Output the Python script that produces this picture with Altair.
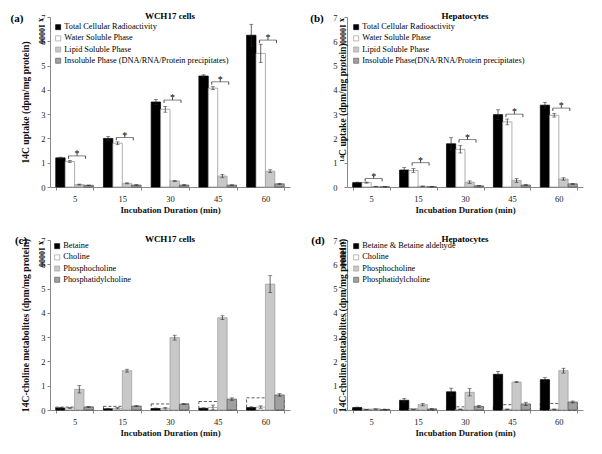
import altair as alt
import pandas as pd

cats = ["5", "15", "30", "45", "60"]

a_series = ["Total Cellular Radioactivity", "Water Soluble Phase", "Lipid Soluble Phase",
            "Insoluble Phase (DNA/RNA/Protein precipitates)"]
a_vals = [[1.2, 2.0, 3.5, 4.57, 6.25], [1.05, 1.8, 3.2, 4.07, 5.5],
          [0.1, 0.15, 0.25, 0.45, 0.65], [0.07, 0.08, 0.08, 0.08, 0.13]]
a_errs = [[0.03, 0.08, 0.1, 0.05, 0.45], [0.04, 0.06, 0.12, 0.06, 0.38],
          [0.02, 0.02, 0.02, 0.07, 0.06], [0.01, 0.02, 0.02, 0.01, 0.02]]
a_brk = [1.28, 2.04, 3.58, 4.33, 6.05]

b_series = ["Total Cellular Radioactivity", "Water Soluble Phase", "Lipid Soluble Phase",
            "Insoluble Phase(DNA/RNA/Protein precipitates)"]
b_vals = [[0.18, 0.7, 1.78, 2.98, 3.37], [0.18, 0.68, 1.55, 2.68, 2.95],
          [0.02, 0.03, 0.2, 0.27, 0.33], [0.01, 0.01, 0.05, 0.08, 0.13]]
b_errs = [[0.02, 0.1, 0.25, 0.2, 0.12], [0.02, 0.08, 0.15, 0.12, 0.07],
          [0.01, 0.01, 0.05, 0.08, 0.05], [0.005, 0.005, 0.01, 0.02, 0.02]]
b_brk = [0.35, 1.0, 1.95, 3.0, 3.25]

c_series = ["Betaine", "Choline", "Phosphocholine", "Phosphatidylcholine"]
c_vals = [[0.08, 0.05, 0.06, 0.07, 0.1], [0.08, 0.07, 0.07, 0.1, 0.12],
          [0.85, 1.62, 2.98, 3.8, 5.18], [0.12, 0.16, 0.24, 0.45, 0.62]]
c_errs = [[0.02, 0.02, 0.02, 0.02, 0.03], [0.03, 0.03, 0.03, 0.1, 0.05],
          [0.15, 0.06, 0.1, 0.08, 0.35], [0.02, 0.02, 0.02, 0.05, 0.05]]
c_dash = [0.12, 0.15, 0.25, 0.35, 0.5]

d_series = ["Betaine & Betaine aldehyde", "Choline", "Phosphocholine", "Phosphatidylcholine"]
d_vals = [[0.1, 0.4, 0.75, 1.47, 1.25], [0.02, 0.03, 0.03, 0.03, 0.03],
          [0.04, 0.22, 0.73, 1.15, 1.62], [0.02, 0.04, 0.15, 0.25, 0.33]]
d_errs = [[0.02, 0.08, 0.15, 0.12, 0.08], [0.01, 0.01, 0.01, 0.01, 0.01],
          [0.01, 0.05, 0.15, 0.02, 0.1], [0.01, 0.01, 0.04, 0.07, 0.04]]
d_dash = [0.03, 0.04, 0.13, 0.22, 0.27]

FILLS = ["#000000", "#ffffff", "#c8c8c8", "#a0a0a0"]
STROKES = ["#000000", "#8c8c8c", "#9a9a9a", "#555555"]
FONT = "Liberation Serif"
H = 170


def panel(tag, title, ytitle, series, vals, errs, brk=None, dash=None, lx=4, ly=4,
          w=240, title_x=-25, label_pad=2, tag_x=-33, tag_y=2, mult_x=-9):
    rows = []
    for s, vs, es in zip(series, vals, errs):
        for c, v, e in zip(cats, vs, es):
            rows.append(dict(cat=c, series=s, v=v, lo=max(v - e, 0), hi=v + e))
    df = pd.DataFrame(rows)

    xenc = alt.X("cat:N", sort=cats,
                 scale=alt.Scale(paddingInner=0.21, paddingOuter=0.12),
                 axis=alt.Axis(title="Incubation Duration (min)", labelAngle=0,
                               tickBand="extent", labelPadding=4, titlePadding=3,
                               titleFontSize=8.8))
    xoff = alt.XOffset("series:N", sort=series,
                       scale=alt.Scale(paddingInner=0, paddingOuter=0))
    yscale = alt.Scale(domain=[0, 7], nice=False)
    yaxis = alt.Axis(title=ytitle, values=list(range(8)), titleX=title_x,
                     titleBaseline="middle", labelPadding=label_pad, titleFontSize=9.6)

    layers = []
    if dash is not None:
        ddf = pd.DataFrame(dict(cat=cats, d=dash))
        layers.append(alt.Chart(ddf).mark_bar(fill="white", fillOpacity=0, stroke="#333333",
                                              strokeDash=[3, 2], strokeWidth=0.8).encode(
            x=xenc, y=alt.Y("d:Q", scale=yscale, axis=yaxis)))

    bars = alt.Chart(df).mark_bar(strokeWidth=0.7).encode(
        x=xenc, xOffset=xoff,
        y=alt.Y("v:Q", scale=yscale, axis=yaxis),
        fill=alt.Fill("series:N", sort=series,
                      scale=alt.Scale(domain=series, range=FILLS),
                      legend=alt.Legend(orient="none", legendX=lx, legendY=ly, title=None,
                                        symbolType="square", symbolSize=26,
                                        symbolStrokeColor="#555555", symbolStrokeWidth=0.6,
                                        labelFont=FONT, labelFontSize=8.3, labelLimit=400,
                                        labelColor="#000000",
                                        rowPadding=2.2, labelOffset=2)),
        stroke=alt.Stroke("series:N", sort=series,
                          scale=alt.Scale(domain=series, range=STROKES), legend=None))
    layers.append(bars)

    err = alt.Chart(df).mark_rule(color="#222222", strokeWidth=0.7).encode(
        x=xenc, xOffset=xoff, y=alt.Y("lo:Q", scale=yscale, axis=yaxis), y2="hi:Q")
    cap_hi = alt.Chart(df).mark_tick(color="#222222", thickness=0.7, size=4).encode(
        x=xenc, xOffset=xoff, y=alt.Y("hi:Q", scale=yscale, axis=yaxis))
    cap_lo = alt.Chart(df).mark_tick(color="#222222", thickness=0.7, size=4).encode(
        x=xenc, xOffset=xoff, y=alt.Y("lo:Q", scale=yscale, axis=yaxis))
    layers += [err, cap_hi, cap_lo]

    if brk is not None:
        bdf = pd.DataFrame(dict(cat=cats, b=brk))
        bdf["down"] = bdf["b"] - 0.12
        bdf["up"] = bdf["b"] + 0.1
        bdf["star"] = bdf["b"] + 0.2
        base = alt.Chart(bdf)
        layers.append(base.mark_tick(color="#222222", thickness=0.8, size=17, xOffset=2.5).encode(
            x=xenc, y=alt.Y("b:Q", scale=yscale, axis=yaxis)))
        for off in (-6, 11):
            layers.append(base.mark_rule(color="#222222", strokeWidth=0.8, xOffset=off).encode(
                x=xenc, y=alt.Y("down:Q", scale=yscale, axis=yaxis), y2="b:Q"))
        layers.append(base.mark_rule(color="#222222", strokeWidth=0.8, xOffset=2.5).encode(
            x=xenc, y=alt.Y("b:Q", scale=yscale, axis=yaxis), y2="up:Q"))
        layers.append(base.mark_text(text="*", font=FONT, fontSize=10, xOffset=2.5, dy=3,
                                     color="#000000").encode(
            x=xenc, y=alt.Y("star:Q", scale=yscale, axis=yaxis)))

    ann = alt.Chart(pd.DataFrame(dict(t=[title], g=[tag], m=["x 10000"])))
    layers.append(ann.mark_text(font=FONT, fontSize=9, fontWeight="bold", color="#000000").encode(
        text="t:N", x=alt.value(w / 2), y=alt.value(-1)))
    layers.append(ann.mark_text(font=FONT, fontSize=11, fontWeight="bold", color="#000000").encode(
        text="g:N", x=alt.value(tag_x), y=alt.value(tag_y)))
    layers.append(ann.mark_text(font=FONT, fontSize=8, fontWeight="bold", angle=90,
                                color="#000000").encode(
        text="m:N", x=alt.value(mult_x), y=alt.value(14)))

    return alt.layer(*layers).properties(width=w, height=H)


pa = panel("(a)", "WCH17 cells", "14C uptake (dpm/mg protein)", a_series, a_vals, a_errs,
           brk=a_brk, lx=4, ly=6)
pb = panel("(b)", "Hepatocytes", "¹⁴C uptake (dpm/mg protein)", b_series, b_vals, b_errs,
           brk=b_brk, lx=5, ly=6, w=236, title_x=-5, label_pad=7, tag_x=-30, mult_x=-5)
pc = panel("(c)", "WCH17 cells", "14C-choline metabolites (dpm/mg protein)", c_series, c_vals,
           c_errs, dash=c_dash, lx=3, ly=2, tag_x=-29, tag_y=1)
pd_ = panel("(d)", "Hepatocytes", "14C-choline metabolites (dpm/mg protein)", d_series, d_vals,
            d_errs, dash=d_dash, lx=5, ly=2, w=236, title_x=-5, label_pad=7, tag_x=-29,
            tag_y=1, mult_x=-5)

chart = alt.concat(
    pa, pb, pc, pd_, columns=2, spacing={"row": 20, "column": 20}
).resolve_scale(
    fill="independent", stroke="independent", xOffset="independent"
).resolve_legend(
    fill="independent", stroke="independent"
).configure(
    font=FONT, padding={"left": 2, "top": 4, "right": 2, "bottom": 2}
).configure_view(stroke=None).configure_legend(
    labelFont=FONT, labelColor="#000000"
).configure_axis(
    domainColor="#888888", tickColor="#888888", tickSize=3, grid=False,
    labelFont=FONT, labelFontSize=8.5, labelColor="#222222",
    titleFont=FONT, titleFontWeight="bold", titleColor="#111111"
)

chart.save("out.html", embed_options={"renderer": "svg", "actions": False})
